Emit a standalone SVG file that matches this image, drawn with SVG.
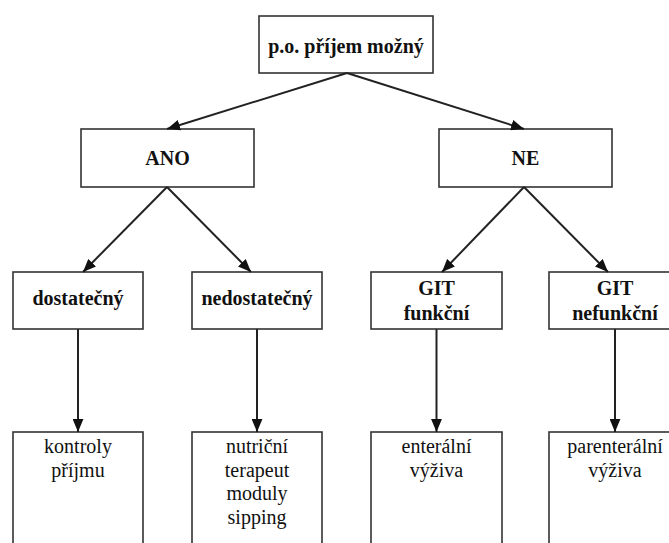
<svg xmlns="http://www.w3.org/2000/svg" width="669" height="543" viewBox="0 0 669 543">
<style>
.box{fill:#fff;stroke:#333;stroke-width:1.6}
.t{font-family:'Liberation Serif','DejaVu Serif','Times New Roman',serif;font-size:20px;fill:#111;text-anchor:middle}
.b{font-weight:bold}
.c{stroke:#222;stroke-width:2;fill:none}
</style>
<defs>
<marker id="ah" viewBox="0 0 12 10" refX="12" refY="5" markerWidth="13" markerHeight="11" orient="auto" markerUnits="userSpaceOnUse">
<path d="M0,0 L12,5 L0,10 Z" fill="#111"/>
</marker>
</defs>
<rect width="669" height="543" fill="#fff"/>
<g id="n-top"><rect class="box" x="259" y="16" width="174" height="57"/><text class="t b" x="346" y="53">p.o. příjem možný</text></g>
<g id="n-ano"><rect class="box" x="81" y="129" width="173" height="58"/><text class="t b" x="167.5" y="165">ANO</text></g>
<g id="n-ne"><rect class="box" x="439" y="129" width="173" height="58"/><text class="t b" x="525.5" y="165">NE</text></g>
<g id="n-dost"><rect class="box" x="13" y="272" width="130" height="57"/><text class="t b" x="78" y="305">dostatečný</text></g>
<g id="n-nedost"><rect class="box" x="192" y="272" width="130" height="57"/><text class="t b" x="257" y="305">nedostatečný</text></g>
<g id="n-gitf"><rect class="box" x="371" y="272" width="131" height="57"/><text class="t b" x="436.5" y="295">GIT</text><text class="t b" x="436.5" y="320">funkční</text></g>
<g id="n-gitn"><rect class="box" x="549" y="272" width="132" height="57"/><text class="t b" x="615" y="295">GIT</text><text class="t b" x="615" y="320">nefunkční</text></g>
<g id="n-kontroly"><rect class="box" x="13" y="432" width="130" height="120"/><text class="t" x="78" y="453">kontroly</text><text class="t" x="78" y="477">příjmu</text></g>
<g id="n-nutri"><rect class="box" x="192" y="432" width="130" height="120"/><text class="t" x="257" y="453">nutriční</text><text class="t" x="257" y="477">terapeut</text><text class="t" x="257" y="500">moduly</text><text class="t" x="257" y="524">sipping</text></g>
<g id="n-ent"><rect class="box" x="371" y="432" width="131" height="120"/><text class="t" x="436.5" y="453">enterální</text><text class="t" x="436.5" y="477">výživa</text></g>
<g id="n-par"><rect class="box" x="549" y="432" width="132" height="120"/><text class="t" x="615" y="453">parenterální</text><text class="t" x="615" y="477">výživa</text></g>
<g id="connectors">
<line class="c" x1="347" y1="73" x2="167" y2="129" marker-end="url(#ah)"/>
<line class="c" x1="347" y1="73" x2="524" y2="129" marker-end="url(#ah)"/>
<line class="c" x1="167" y1="187" x2="83" y2="272" marker-end="url(#ah)"/>
<line class="c" x1="167" y1="187" x2="251" y2="272" marker-end="url(#ah)"/>
<line class="c" x1="524" y1="187" x2="442" y2="272" marker-end="url(#ah)"/>
<line class="c" x1="524" y1="187" x2="608" y2="272" marker-end="url(#ah)"/>
<line class="c" x1="78" y1="329" x2="78" y2="432" marker-end="url(#ah)"/>
<line class="c" x1="257" y1="329" x2="257" y2="432" marker-end="url(#ah)"/>
<line class="c" x1="436.5" y1="329" x2="436.5" y2="432" marker-end="url(#ah)"/>
<line class="c" x1="615" y1="329" x2="615" y2="432" marker-end="url(#ah)"/>
</g>
</svg>
